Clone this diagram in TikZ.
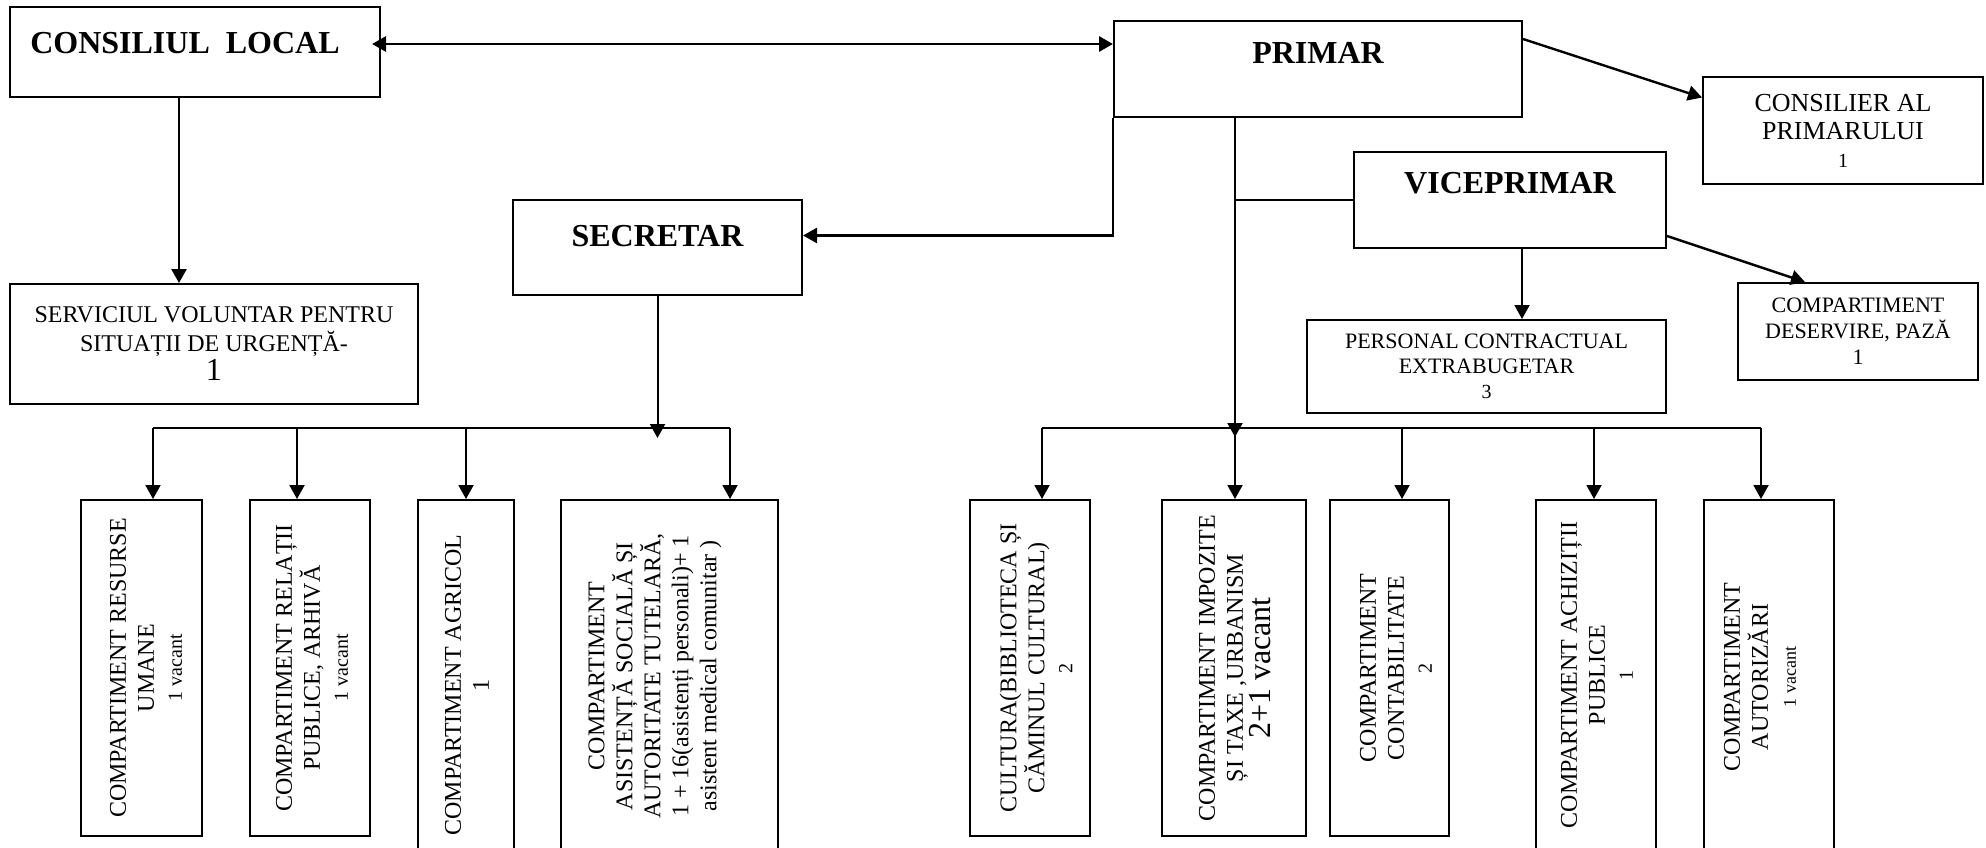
\documentclass[tikz,border=0pt]{standalone}
\usepackage{fontspec}
\setmainfont{Liberation Serif}
\usetikzlibrary{arrows.meta}

\begin{document}
\begin{tikzpicture}[x=0.5pt,y=0.5pt]
        \tikzstyle{every node}+=[inner sep=0pt]
        \tikzstyle{box}=[draw, line width=1pt, align=center, font=\fontsize{12}{14.5}\selectfont]
        \tikzstyle{head}=[box, font=\bfseries\fontsize{16}{19}\selectfont]
        \tikzstyle{dept}=[draw, line width=1pt, minimum height=168pt]
        \tikzstyle{vtext}=[rotate=90, align=center, font=\fontsize{12}{14}\selectfont]
        \tikzstyle{arr}=[line width=1pt, -{Triangle[length=7pt,width=7.5pt]}]
        \tikzstyle{dbl}=[line width=1.4pt, {Triangle[length=7pt,width=7.5pt]}-{Triangle[length=7pt,width=7.5pt]}]
        \fill[white] (0,0) rectangle (1986,-847);
        \useasboundingbox (0,0) rectangle (1986,-847);
        \clip (0,0) rectangle (1986,-847);
        \node[head, minimum width=185pt, minimum height=45pt, text depth=9pt] (consiliu) at (195,-52) {CONSILIUL~~LOCAL\hspace{10pt}};
        \node[head, minimum width=204pt, minimum height=48pt, text depth=16pt] (primar) at (1318,-69) {PRIMAR};
        \node[box, minimum width=140pt, minimum height=53.5pt, font=\fontsize{13}{14}\selectfont] (consilier) at (1843,-130.5) {CONSILIER AL\\PRIMARULUI\\{\fontsize{10}{12}\selectfont 1}};
        \node[head, minimum width=156pt, minimum height=48pt, text depth=17pt] (viceprimar) at (1510,-200) {VICEPRIMAR};
        \node[head, minimum width=144.5pt, minimum height=47.5pt, text depth=12pt] (secretar) at (657.5,-247.5) {SECRETAR};
        \node[box, minimum width=204pt, minimum height=60pt] (serviciu) at (214,-344) {SERVICIUL VOLUNTAR PENTRU\\SITUAȚII DE URGENȚĂ-\\{\fontsize{16}{17}\selectfont 1}};
        \node[box, minimum width=179.5pt, minimum height=46.5pt, font=\fontsize{11}{12.5}\selectfont] (personal) at (1486.5,-366.5) {PERSONAL CONTRACTUAL\\EXTRABUGETAR\\{\fontsize{10}{12}\selectfont 3}};
        \node[box, minimum width=120pt, minimum height=48.5pt, font=\fontsize{11}{13}\selectfont] (deservire) at (1858,-331.5) {COMPARTIMENT\\DESERVIRE, PAZĂ\\1};
        \node[dept, minimum width=60.5pt] (resurse) at (141.5,-668) {};
        \node[dept, minimum width=60pt] (relatii) at (310,-668) {};
        \node[dept, minimum width=48pt, minimum height=190pt] (agricol) at (466,-690) {};
        \node[dept, minimum width=108.5pt, minimum height=190pt] (asistenta) at (669.5,-690) {};
        \node[dept, minimum width=60pt] (cultura) at (1030,-668) {};
        \node[dept, minimum width=72pt] (impozite) at (1234,-668) {};
        \node[dept, minimum width=59.5pt] (contab) at (1389.5,-668) {};
        \node[dept, minimum width=60pt, minimum height=190pt] (achizitii) at (1596,-690) {};
        \node[dept, minimum width=65pt, minimum height=190pt] (autorizari) at (1769,-690) {};
        \node[vtext] (resurse-t) at (146,-668) {COMPARTIMENT RESURSE\\UMANE\\{\fontsize{10}{12}\selectfont 1 vacant}};
        \node[vtext] (relatii-t) at (312,-668) {COMPARTIMENT RELAȚII\\PUBLICE, ARHIVĂ\\{\fontsize{10}{12}\selectfont 1 vacant}};
        \node[vtext] (agricol-t) at (467,-685) {COMPARTIMENT AGRICOL\\1};
        \node[vtext] (asistenta-t) at (655,-676) {COMPARTIMENT\\ASISTENȚĂ SOCIALĂ ȘI\\AUTORITATE TUTELARĂ,\\1 + 16(asistenți personali)+ 1\\asistent medical comunitar )};
        \node[vtext] (cultura-t) at (1036,-668) {CULTURA(BIBLIOTECA ȘI\\CĂMINUL CULTURAL)\\{\fontsize{10}{12}\selectfont 2}};
        \node[vtext] (impozite-t) at (1235,-668) {COMPARTIMENT IMPOZITE\\ȘI TAXE ,URBANISM\\{\fontsize{16}{17}\selectfont 2+1 vacant}};
        \node[vtext] (contab-t) at (1396,-668) {COMPARTIMENT\\CONTABILITATE\\{\fontsize{10}{12}\selectfont 2}};
        \node[vtext] (achizitii-t) at (1597,-675) {COMPARTIMENT ACHIZIȚII\\PUBLICE\\{\fontsize{10}{12}\selectfont 1}};
        \node[vtext] (autorizari-t) at (1760,-677) {COMPARTIMENT\\AUTORIZĂRI\\{\fontsize{9}{11}\selectfont 1 vacant}};
        \coordinate (bl1) at (153,-428);
        \coordinate (bl2) at (297,-428);
        \coordinate (bl3) at (466,-428);
        \coordinate (bl4) at (730,-428);
        \coordinate (br1) at (1042,-428);
        \coordinate (br2) at (1235,-428);
        \coordinate (br3) at (1402,-428);
        \coordinate (br4) at (1594,-428);
        \coordinate (br5) at (1761,-428);
        \draw[dbl] ([xshift=-4.5pt,yshift=4pt]consiliu.east) -- ([yshift=4pt]consiliu.east -| primar.west);
        \draw[arr, line width=1.3pt] ([xshift=-8pt]consiliu.south) -- ([xshift=-8pt]consiliu.south |- serviciu.north);
        \draw[arr, line width=1.2pt] ([yshift=15pt]primar.east) -- ([yshift=16.5pt]consilier.west);
        \draw[arr, line width=1.2pt] (primar.south west) |- ([yshift=6pt]secretar.east);
        \draw[arr] (secretar.south) -- ([yshift=-5pt]secretar.south |- bl1);
        \draw[line width=1pt] (bl1) -- (bl4);
        \draw[arr] (bl1) -- (bl1 |- resurse.north);
        \draw[arr] (bl2) -- (bl2 |- relatii.north);
        \draw[arr] (bl3) -- (bl3 |- agricol.north);
        \draw[arr] (bl4) -- (bl4 |- asistenta.north);
        \draw[arr] (br2 |- primar.south) -- ([yshift=-4.5pt]br2);
        \draw[line width=1pt] (br2 |- viceprimar.west) -- (viceprimar.west);
        \draw[arr] ([xshift=6pt]viceprimar.south) -- ([xshift=6pt]viceprimar.south |- personal.north);
        \draw[arr, line width=1.2pt] ([yshift=-18pt]viceprimar.east) -- ([xshift=-26.5pt]deservire.north);
        \draw[line width=1pt] (br1) -- (br5);
        \draw[arr] (br1) -- (br1 |- cultura.north);
        \draw[arr] (br2) -- (br2 |- impozite.north);
        \draw[arr] (br3) -- (br3 |- contab.north);
        \draw[arr] (br4) -- (br4 |- achizitii.north);
        \draw[arr] (br5) -- (br5 |- autorizari.north);
\end{tikzpicture}
\end{document}
